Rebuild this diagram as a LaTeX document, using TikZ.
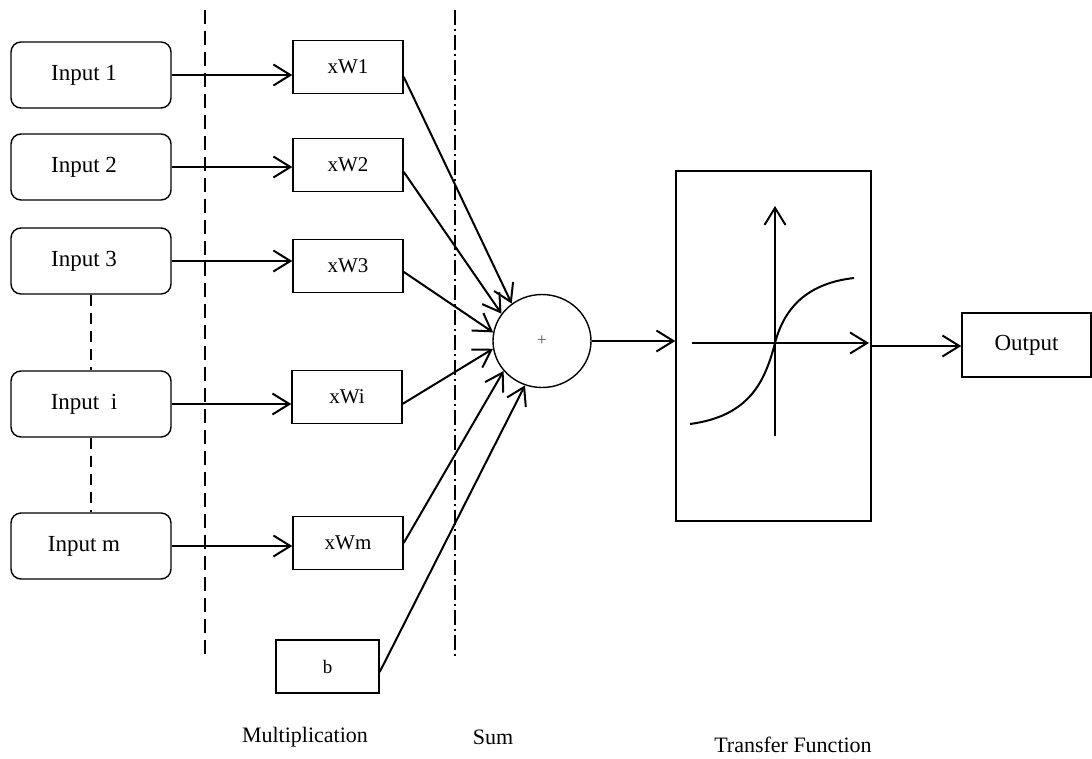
\documentclass[tikz,border=0pt]{standalone}
\usepackage{fontspec}
\setmainfont{Liberation Serif}
\usetikzlibrary{arrows.meta,shapes.geometric}

\tikzset{
  inbox/.style={draw, line width=1.4pt, rounded corners=10pt, minimum width=160pt,
    minimum height=66pt, inner sep=0pt, font=\fontsize{23}{28}\selectfont},
  wbox/.style={draw, line width=1.4pt, minimum width=110pt, minimum height=53pt,
    inner sep=0pt, font=\fontsize{21}{25}\selectfont},
  sumnode/.style={draw, ellipse, line width=1.4pt, minimum width=98pt,
    minimum height=93pt, inner sep=0pt},
  plainbox/.style={draw, line width=1.4pt, inner sep=0pt},
  caption/.style={font=\fontsize{22}{26}\selectfont},
  conn/.style={line width=2pt, -{Straight Barb[length=17pt,width=21pt]}},
  wire/.style={line width=2pt},
  sepdash/.style={line width=2pt, dash pattern=on 14pt off 7pt},
  sepdashdot/.style={line width=2pt, dash pattern=on 15pt off 4pt on 2pt off 4pt},
  gapdash/.style={line width=1.8pt, dash pattern=on 11pt off 7pt},
}
% input labels sit a little left of the box centre
\newcommand{\inlabel}[1]{#1\kern14pt\relax}

\begin{document}
\begin{tikzpicture}[x=1pt, y=-1pt]
  \useasboundingbox (0,0) rectangle (1092,758);

  % input neurons
  \node[inbox] (in1) at (91,75)  {\inlabel{Input 1}};
  \node[inbox] (in2) at (91,167) {\inlabel{Input 2}};
  \node[inbox] (in3) at (91,261) {\inlabel{Input 3}};
  \node[inbox] (ini) at (91,404) {\inlabel{Input~~i}};
  \node[inbox] (inm) at (91,546) {\inlabel{Input m}};

  % weights and bias
  \node[wbox] (w1) at (348,67)   {xW1};
  \node[wbox] (w2) at (348,165)  {xW2};
  \node[wbox] (w3) at (348,266)  {xW3};
  \node[wbox] (wi) at (347,397)  {xWi};
  \node[wbox] (wm) at (348,543)  {xWm};
  \node[wbox, minimum width=103pt, font=\fontsize{19}{23}\selectfont] (b) at (327.5,666.5) {b};

  % summation
  \node[sumnode] (sum) at (542,341) {\textcolor{black!70}{\fontsize{17}{19}\selectfont +}};

  % transfer function block
  \node[plainbox, minimum width=195pt, minimum height=350pt] (tf) at (773.5,346) {};
  \node[plainbox, minimum width=129pt, minimum height=64pt,
        font=\fontsize{23}{28}\selectfont] (out) at (1026.5,345) {\raisebox{5pt}{Output}};

  % layer separators
  \coordinate (s1top) at (205,10);
  \coordinate (s1bot) at (205,660);
  \coordinate (s2top) at (455,10);
  \coordinate (s2bot) at (455,658);
  \draw[sepdash] (s1top) -- (s1bot);
  \draw[sepdashdot] (s2top) -- (s2bot);

  % elided inputs
  \draw[gapdash] (in3.south) -- (ini.north);
  \draw[gapdash] (ini.south) -- (inm.north);

  % inputs to weights
  \draw[conn] (in1.east) -- (in1.east -| w1.west);
  \draw[conn] (in2.east) -- (in2.east -| w2.west);
  \draw[conn] (in3.east) -- (in3.east -| w3.west);
  \draw[conn] (ini.east) -- (ini.east -| wi.west);
  \draw[conn] (inm.east) -- (inm.east -| wm.west);

  % weighted inputs to the sum
  \draw[conn] (w1.-10)  -- (sum.129);
  \draw[conn] (w2.-7)   -- (sum.146);
  \draw[conn] (w3.-6)   -- (sum.170);
  \draw[conn] (wi.-7)   -- (sum.189);
  \draw[conn] (wm.east) -- (sum.218);
  \draw[conn] (b.-6)    -- (sum.249);

  % sum to activation, activation to output
  \draw[conn] (sum.east) -- (sum.east -| tf.west);
  \draw[conn] (tf.east) -- (tf.east -| out.west);

  % sigmoid plot
  \coordinate (org) at (775,343);
  \coordinate (ytop) at (775,206);
  \coordinate (ybot) at (775,436);
  \coordinate (xl) at (692,343);
  \coordinate (xr) at (869,343);
  \draw[conn] (ybot) -- (ytop);
  \draw[conn] (xl) -- (xr);
  \draw[wire] (690,424) .. controls (750,416) and (765,381) .. (org)
              .. controls (785,305) and (810,283) .. (854,278);

  % stage captions
  \node[caption] (lmul) at (305,737) {Multiplication};
  \node[caption] (lsum) at (493,737) {Sum};
  \node[caption] (ltf)  at (793,745) {Transfer Function};
\end{tikzpicture}
\end{document}
